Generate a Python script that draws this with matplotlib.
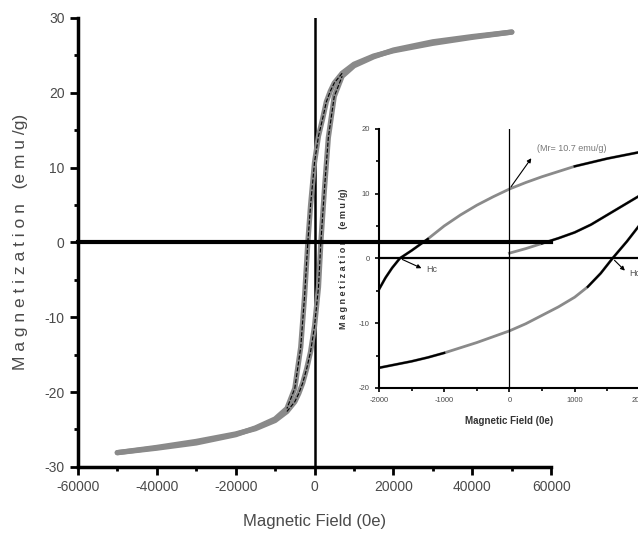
import numpy as np
import matplotlib
matplotlib.use('Agg')
import matplotlib.pyplot as plt
from matplotlib.ticker import MultipleLocator

plt.rcParams['font.family'] = ['Liberation Sans Narrow', 'Liberation Sans', 'DejaVu Sans']
plt.rcParams['axes.unicode_minus'] = False

# main loop, upper branch (field decreasing)
H_up = [50000, 40000, 30000, 20000, 15000, 10000, 7000, 5000, 4000, 3000, 2000, 1000, 0,
        -1000, -1700, -2500, -3500, -5000, -7000, -10000, -15000, -20000, -30000, -40000, -50000]
M_up = [28.1, 27.4, 26.6, 25.6, 24.9, 23.8, 22.6, 21.3, 20.2, 18.8, 16.4, 14.2, 10.7,
        5.0, 0.0, -7.0, -14.0, -19.5, -22.2, -23.6, -24.8, -25.7, -26.8, -27.5, -28.1]
# main loop, lower branch (field increasing)
H_lo = [-50000, -40000, -30000, -20000, -15000, -10000, -7000, -5000, -4000, -3000, -2000, -1000, 0,
        1000, 1600, 2500, 3500, 5000, 7000, 10000, 15000, 20000, 30000, 40000, 50000]
M_lo = [-28.1, -27.4, -26.6, -25.6, -24.9, -23.8, -22.6, -21.3, -20.2, -18.8, -16.9, -14.6, -11.2,
        -6.0, 0.0, 7.0, 14.0, 19.5, 22.2, 23.6, 24.8, 25.7, 26.8, 27.5, 28.1]

# inset (zoom on low field)
ins_H_up = [2000, 1750, 1500, 1250, 1000, 750, 500, 250, 0, -250, -500, -750, -1000,
            -1250, -1500, -1680, -1800, -1900, -2000]
ins_M_up = [16.4, 15.9, 15.4, 14.8, 14.2, 13.4, 12.6, 11.7, 10.7, 9.5, 8.2, 6.7, 5.0,
            3.0, 1.2, 0.0, -1.5, -3.0, -4.8]
ins_H_lo = [-2000, -1750, -1500, -1250, -1000, -750, -500, -250, 0, 250, 500, 750, 1000,
            1200, 1400, 1580, 1800, 2000]
ins_M_lo = [-16.9, -16.4, -15.9, -15.3, -14.6, -13.8, -13.0, -12.1, -11.2, -10.1, -8.8, -7.5, -6.0,
            -4.4, -2.3, 0.0, 2.6, 5.2]
ins_H_vir = [0, 250, 500, 750, 1000, 1250, 1500, 1750, 2000]
ins_M_vir = [0.8, 1.5, 2.3, 3.1, 4.0, 5.2, 6.7, 8.2, 9.7]

grey = '#8a8a8a'
txt = '#4a4a4a'

fig = plt.figure(figsize=(6.38, 5.41), dpi=100)
ax = fig.add_axes([0.122, 0.137, 0.742, 0.830])

ax.plot(H_up, M_up, color=grey, lw=3.8, solid_capstyle='round', zorder=3)
ax.plot(H_lo, M_lo, color=grey, lw=3.8, solid_capstyle='round', zorder=3)
# thin dashed inner traces near the origin
sel = [i for i, h in enumerate(H_up) if abs(h) <= 7000]
ax.plot([H_up[i] for i in sel], [M_up[i] for i in sel], color='black', lw=0.8, ls='--', zorder=4)
sel = [i for i, h in enumerate(H_lo) if abs(h) <= 7000]
ax.plot([H_lo[i] for i in sel], [M_lo[i] for i in sel], color='black', lw=0.8, ls='--', zorder=4)

ax.plot([0, 0], [-30, 30], color='black', lw=1.8, zorder=2)

ax.set_xlim(-60000, 60000)
ax.set_ylim(-30, 30)
for s in ['top', 'right']:
    ax.spines[s].set_visible(False)
for s in ['left', 'bottom']:
    ax.spines[s].set_linewidth(2.5)
ax.xaxis.set_major_locator(MultipleLocator(20000))
ax.xaxis.set_minor_locator(MultipleLocator(10000))
ax.yaxis.set_major_locator(MultipleLocator(10))
ax.yaxis.set_minor_locator(MultipleLocator(5))
ax.tick_params(which='major', direction='out', length=6, width=2, labelsize=10, labelcolor=txt)
ax.tick_params(which='minor', direction='out', length=3, width=2)
ax.set_xlabel('Magnetic Field (0e)', fontsize=12, color=txt, labelpad=14)
ax.set_ylabel('M a g n e t i z a t i o n   (e m u /g)', fontsize=12.5, color=txt, labelpad=12)

# inset
ax2 = fig.add_axes([0.594, 0.283, 0.409, 0.479])
ax2.patch.set_alpha(0)
ax2.plot(ins_H_up, ins_M_up, color=grey, lw=2)
ax2.plot(ins_H_lo, ins_M_lo, color=grey, lw=2)
ax2.plot(ins_H_vir, ins_M_vir, color=grey, lw=2)
# black parts of the traces
h = np.array(ins_H_up); m = np.array(ins_M_up)
ax2.plot(h[h >= 1000], m[h >= 1000], color='black', lw=1.6)
ax2.plot(h[h <= -1250], m[h <= -1250], color='black', lw=1.6)
h = np.array(ins_H_lo); m = np.array(ins_M_lo)
ax2.plot(h[h <= -1000], m[h <= -1000], color='black', lw=1.6)
ax2.plot(h[h >= 1200], m[h >= 1200], color='black', lw=1.6)
h = np.array(ins_H_vir); m = np.array(ins_M_vir)
ax2.plot(h[h >= 500], m[h >= 500], color='black', lw=1.6)

ax2.plot([0, 0], [-20, 20], color='black', lw=0.9)
ax2.plot([-2000, 2000], [0, 0], color='black', lw=1.6)
# main zero line drawn over the inset
ax2.plot([-60000, 60000], [0, 0], color='black', lw=3, transform=ax.transData, clip_on=False)

ax2.set_xlim(-2000, 2000)
ax2.set_ylim(-20, 20)
for s in ['top', 'right']:
    ax2.spines[s].set_visible(False)
for s in ['left', 'bottom']:
    ax2.spines[s].set_linewidth(1.5)
ax2.xaxis.set_major_locator(MultipleLocator(1000))
ax2.xaxis.set_minor_locator(MultipleLocator(500))
ax2.yaxis.set_major_locator(MultipleLocator(10))
ax2.yaxis.set_minor_locator(MultipleLocator(5))
ax2.tick_params(which='major', direction='out', length=3, width=1.2, labelsize=5.5, labelcolor=txt)
ax2.tick_params(which='minor', direction='out', length=2, width=1.2)
ax2.set_xlabel('Magnetic Field (0e)', fontsize=7, fontweight='bold', color='#333333', labelpad=9)
ax2.set_ylabel('M a g n e t i z a t i o n    (e m u /g)', fontsize=6.5, fontweight='bold', color='#333333', labelpad=8)

ax2.annotate('', xy=(360, 15.8), xytext=(0, 10.7),
             arrowprops=dict(arrowstyle='-|>', color='black', lw=0.8, mutation_scale=6))
ax2.text(420, 17.0, '(Mr= 10.7 emu/g)', fontsize=6.5, color='#777777', va='center')
ax2.annotate('', xy=(-1310, -1.7), xytext=(-1680, 0),
             arrowprops=dict(arrowstyle='-|>', color='black', lw=0.8, mutation_scale=6))
ax2.text(-1270, -1.7, 'Hc', fontsize=6.5, color='#555555', va='center')
ax2.annotate('', xy=(1800, -2.2), xytext=(1580, 0),
             arrowprops=dict(arrowstyle='-|>', color='black', lw=0.8, mutation_scale=6))
ax2.text(1840, -2.4, 'Hc', fontsize=6.5, color='#555555', va='center', clip_on=False)

fig.savefig('out.png', dpi=100)
